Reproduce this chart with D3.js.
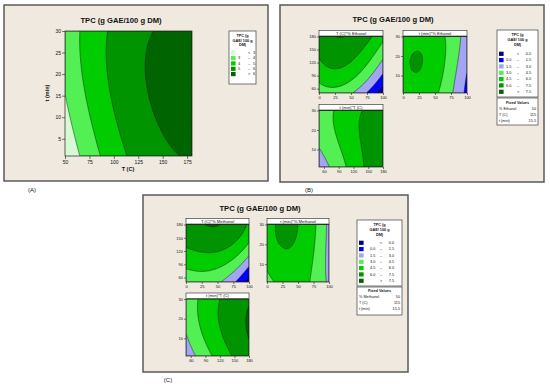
<!DOCTYPE html>
<html><head><meta charset="utf-8">
<script src="https://cdn.jsdelivr.net/npm/d3@7"></script>
<style>
body{margin:0;background:#fff}
svg{display:block}
text{font-family:"Liberation Sans",Arial,sans-serif;fill:#111}
</style>
</head><body>
<svg id="c" width="550" height="386"></svg>
<script>
// ---------------- data ----------------
const mainTitle = "TPC (g GAE/100 g DM)";
const legendTitle = ["TPC (g", "GAE/ 100 g", "DM)"];

const levelsA = [3, 4, 5, 6];
const colorsA = ["#d6fad2", "#52f052", "#00cc00", "#009400", "#006400"];
const legendRowsA = [["", "<", "3"], ["3", "–", "4"], ["4", "–", "5"], ["5", "–", "6"], ["", ">", "6"]];

const levelsBC = [0, 1.5, 3, 4.5, 6, 7.5];
const colorsBC = ["#000080", "#0000ff", "#a4a4f4", "#52f052", "#00cc00", "#009400", "#006400"];
const legendRowsBC = [["", "<", "0.0"], ["0.0", "–", "1.5"], ["1.5", "–", "3.0"], ["3.0", "–", "4.5"],
                      ["4.5", "–", "6.0"], ["6.0", "–", "7.5"], ["", ">", "7.5"]];

const fixedB = [["% Ethanol", "50"], ["T (C)", "115"], ["t (min)", "15.5"]];
const fixedC = [["% Methanol", "50"], ["T (C)", "115"], ["t (min)", "15.5"]];

const headersB = ["T (C)*% Ethanol", "t (min)*% Ethanol", "t (min)*T (C)"];
const headersC = ["T (C)*% Methanol", "t (min)*% Methanol", "t (min)*T (C)"];

const ticksT_A = [50, 75, 100, 125, 150, 175];
const ticks_t_A = [5, 10, 15, 20, 25, 30];
const ticksPct = [0, 25, 50, 75, 100];
const ticksT = [60, 90, 120, 150, 180];
const ticks_t = [10, 20, 30];

// points: [x, y, TPC] (contour crossings and band mid-values)
const ptsA = [
  [50,17,3],[55,10,3],[60,5,3],[65,1,3],
  [66.4,30,4],[68,22,4],[70.5,15,4],[82,6,4],[86,1,4],
  [93,30,5],[92.5,22,5],[96,14,5],[104,6.3,5],[114.5,1,5],
  [140,30,6],[133,21.7,6],[143.8,10,6],[157.5,4,6],[164.5,1,6],
  [175,20,6.4],[52,25,3.5]
];
const ptsB1 = [
  [24.5,180,7.5],[33,175,7.5],[42.7,180,7.5],
  [0,127,6],[15,113,6],[30,111,6],[50,118,6],[65,140,6],[78,180,6],
  [0,72,4.5],[25,64,4.5],[50,72,4.5],[75,105,4.5],[100,160,4.5],
  [52,50,3],[75,90,3],[100,138,3],
  [73,50,1.5],[100,95,1.5],
  [89.6,50,0],[100,64,0],
  [25,150,6.9],[10,90,5.3],[95,175,5.2]
];
const ptsB2 = [
  [13.75,17.3,6],[33.25,17.3,6],[23.5,23.4,6],[23.5,11.2,6],
  [16.6,21.6,6],[30.4,21.6,6],[16.6,13,6],[30.4,13,6],
  [23.5,17.3,6.3],[0,17,5.5],[0,2,5.1],[0,29,5.1],[45,28,5.3],[40,3,5.2],[23,1,5.3],[23,30,5.4],
  [68.75,30,4.5],[62,15,4.5],[57.3,1,4.5],
  [89.6,30,3],[84,15,3],[78,1,3],
  [100,10.5,1.5],[94.8,1,1.5]
];
const ptsB3 = [
  [50,11.25,3],[60,6,3],[72,1,3],
  [80,30,4.5],[80,22,4.5],[87,15,4.5],[105,1,4.5],
  [138.7,30,6],[130,18.4,6],[141,1,6],
  [175,15,6.7],[110,15,5.2]
];
const ptsC1 = [
  [35.6,180,7.5],[47,172,7.5],[59,180,7.5],
  [0,126,6],[33,116.5,6],[60,125,6],[85,150,6],[96,180,6],
  [0,81,4.5],[28,75.5,4.5],[60,85,4.5],[80,110,4.5],[100,141,4.5],
  [59,50,3],[80,78,3],[100,102.6,3],
  [75,50,1.5],[100,91,1.5],
  [94.8,50,0],[100,64,0],
  [30,150,6.9],[10,100,5.3]
];
const ptsC2 = [
  [13.3,30,6],[17,25,6],[22,19,6],[32,14.6,6],[42,18,6],[46,24,6],[47.9,30,6],
  [30,26,6.4],[0,20,5.3],[50,8,5.3],[55,25,5.6],[35,4,5.2],
  [79.8,30,4.5],[75,15,4.5],[71.8,1,4.5],[0,7,4.5],[7,4,4.5],[15.7,1,4.5],[0,1,4.15],
  [96,30,3],[93,15,3],[95,1,3],[100,15,2.6]
];
const ptsC3 = [
  [50,12,3],[60,6,3],[70,1,3],
  [74.8,30,4.5],[80,18,4.5],[90,9,4.5],[103.8,1,4.5],
  [119,30,6],[114,23,6],[125,10,6],[145.6,1,6],
  [180,27.4,7.5],[169,20,7.5],[180,11.3,7.5],
  [95,15,5.2],[150,20,6.8],[170,2,6.9],[160,30,6.9]
];

// ---------------- helpers ----------------
// least-squares cubic surface through the points read above
function fitSurface(pts, xd, yd) {
  const basis = (x, y) => { const u = (x - xd[0]) / (xd[1] - xd[0]) * 2 - 1, v = (y - yd[0]) / (yd[1] - yd[0]) * 2 - 1;
    return [1, u, v, u * u, v * v, u * v, u * u * u, u * u * v, u * v * v, v * v * v]; };
  const deg = [0, 1, 1, 2, 2, 2, 3, 3, 3, 3];
  const n = 10, A = Array.from({length: n}, () => new Array(n + 1).fill(0));
  pts.forEach(([x, y, z]) => { const b = basis(x, y);
    for (let i = 0; i < n; i++) { for (let j = 0; j < n; j++) A[i][j] += b[i] * b[j]; A[i][n] += b[i] * z; } });
  for (let i = 0; i < n; i++) A[i][i] += deg[i] === 3 ? 0.02 : 1e-6;
  for (let i = 0; i < n; i++) {
    let p = i; for (let r = i + 1; r < n; r++) if (Math.abs(A[r][i]) > Math.abs(A[p][i])) p = r;
    [A[i], A[p]] = [A[p], A[i]];
    for (let r = 0; r < n; r++) if (r !== i) { const f = A[r][i] / A[i][i]; for (let c = i; c <= n; c++) A[r][c] -= f * A[i][c]; }
  }
  const c = A.map((row, i) => row[n] / row[i]);
  return (x, y) => { const b = basis(x, y); return b.reduce((s, bi, i) => s + bi * c[i], 0); };
}

const svg = d3.select("#c");
const BG = "#efe9df";
let clipId = 0;

function frame(x, y, w, h) {
  svg.append("rect").attr("x", x).attr("y", y).attr("width", w).attr("height", h)
    .attr("fill", BG).attr("stroke", "#5a5a5a").attr("stroke-width", 1.5);
}
function label(x, y, t, opt = {}) {
  return svg.append("text").attr("x", x).attr("y", y).text(t)
    .attr("font-size", opt.size || 5).attr("font-weight", opt.bold ? "bold" : null)
    .attr("text-anchor", opt.anchor || "middle");
}

function contourPlot(cfg) {
  const [px, py, pw, ph] = cfg.rect;
  const xs = d3.scaleLinear().domain(cfg.xd).range([px, px + pw]);
  const ys = d3.scaleLinear().domain(cfg.yd).range([py + ph, py]);
  const f = fitSurface(cfg.pts, cfg.xd, cfg.yd);
  const nx = 120, ny = 120, vals = new Array(nx * ny);
  for (let j = 0; j < ny; j++) for (let i = 0; i < nx; i++) {
    const X = xs.invert(px + (i + 0.5) / nx * pw), Y = ys.invert(py + (j + 0.5) / ny * ph);
    vals[i + j * nx] = f(X, Y);
  }
  const id = "clip" + (clipId++);
  svg.append("clipPath").attr("id", id).append("rect").attr("x", px).attr("y", py).attr("width", pw).attr("height", ph);
  const g = svg.append("g").attr("clip-path", `url(#${id})`);
  g.append("rect").attr("x", px).attr("y", py).attr("width", pw).attr("height", ph).attr("fill", cfg.colors[0]);
  const path = d3.geoPath(d3.geoTransform({ point(x, y) { this.stream.point(px + x / nx * pw, py + y / ny * ph); } }));
  const cs = d3.contours().size([nx, ny]).thresholds(cfg.levels)(vals);
  cs.forEach((c, k) => {
    g.append("path").attr("d", path(c)).attr("fill", cfg.colors[k + 1])
      .attr("stroke", "#1b1b1b").attr("stroke-width", 0.5);
  });
  svg.append("rect").attr("x", px).attr("y", py).attr("width", pw).attr("height", ph)
    .attr("fill", "none").attr("stroke", "#222").attr("stroke-width", 0.7);
  const fs = cfg.tickFont || 4, tl = cfg.tickLen || 2;
  const ax = svg.append("g").attr("transform", `translate(0,${py + ph})`)
    .call(d3.axisBottom(xs).tickValues(cfg.xt).tickSize(tl).tickPadding(1).tickFormat(d3.format("d")));
  const ay = svg.append("g").attr("transform", `translate(${px},0)`)
    .call(d3.axisLeft(ys).tickValues(cfg.yt).tickSize(tl).tickPadding(1).tickFormat(d3.format("d")));
  [ax, ay].forEach(a => { a.select(".domain").remove();
    a.selectAll("text").attr("font-size", fs).attr("font-family", "Liberation Sans, Arial").attr("fill", "#222");
    a.selectAll("line").attr("stroke", "#222").attr("stroke-width", 0.6); });
  if (cfg.header) {
    svg.append("rect").attr("x", px).attr("y", py - 6).attr("width", pw).attr("height", 5.5)
      .attr("fill", "#fff").attr("stroke", "#222").attr("stroke-width", 0.6);
    label(px + pw / 2, py - 1.8, cfg.header, {size: 4.2});
  }
  return {xs, ys};
}

function legend(x, y, w, h, rows, colors, cols, rowY, titleY) {
  svg.append("rect").attr("x", x).attr("y", y).attr("width", w).attr("height", h)
    .attr("fill", "#fff").attr("stroke", "#555").attr("stroke-width", 0.8);
  legendTitle.forEach((t, i) => label(x + w / 2, titleY[i], t, {size: 3.8, bold: true}));
  rows.forEach((r, i) => {
    const yy = rowY[i];
    svg.append("rect").attr("x", x + 2).attr("y", yy - 3.3).attr("width", 4.6).attr("height", 4.2).attr("fill", colors[i]);
    if (r[0]) label(cols[0], yy, r[0], {size: 3.8, anchor: "start"});
    label(cols[1], yy, r[1], {size: 3.8});
    label(cols[2], yy, r[2], {size: 3.8, anchor: "end"});
  });
}
function fixedBox(x, y, w, h, rows, rowY) {
  svg.append("rect").attr("x", x).attr("y", y).attr("width", w).attr("height", h)
    .attr("fill", "#fff").attr("stroke", "#555").attr("stroke-width", 0.8);
  label(x + w / 2, rowY[0], "Fixed Values", {size: 3.8, bold: true});
  rows.forEach((r, i) => {
    label(x + 2, rowY[i + 1], r[0], {size: 3.8, anchor: "start"});
    label(x + w - 2, rowY[i + 1], r[1], {size: 3.8, anchor: "end"});
  });
}

// ---------------- panel A ----------------
frame(4, 5, 264, 176);
label(121, 23, mainTitle, {size: 7.6, bold: true});
contourPlot({rect: [65, 31, 127, 125], xd: [50, 180], yd: [1, 30], xt: ticksT_A, yt: ticks_t_A,
  pts: ptsA, levels: levelsA, colors: colorsA, tickFont: 5, tickLen: 3});
label(128, 171, "T (C)", {size: 5.5, bold: true});
svg.append("text").attr("transform", "translate(49,93) rotate(-90)").attr("text-anchor", "middle")
  .attr("font-size", 5.5).attr("font-weight", "bold").text("t (min)");
legend(229, 31, 27, 53, legendRowsA, colorsA, [238, 249, 255], [54, 59.3, 64.6, 70, 75.3], [37, 41.5, 46]);
label(32, 192, "(A)", {size: 6});

// ---------------- panel B ----------------
frame(280, 5, 264, 177);
label(393, 22, mainTitle, {size: 7.6, bold: true});
contourPlot({rect: [319, 36.5, 64, 56.5], xd: [0, 100], yd: [50, 180], xt: ticksPct, yt: ticksT,
  pts: ptsB1, levels: levelsBC, colors: colorsBC, header: headersB[0]});
contourPlot({rect: [403, 36.5, 64, 56.5], xd: [0, 100], yd: [1, 30], xt: ticksPct, yt: ticks_t,
  pts: ptsB2, levels: levelsBC, colors: colorsBC, header: headersB[1]});
contourPlot({rect: [319, 110.5, 64, 56.5], xd: [50, 180], yd: [1, 30], xt: ticksT, yt: ticks_t,
  pts: ptsB3, levels: levelsBC, colors: colorsBC, header: headersB[2]});
legend(497, 30, 41, 67, legendRowsBC, colorsBC, [506, 518, 531], [55, 61.3, 67.6, 74, 80.3, 86.6, 93], [35.5, 40.5, 45.5]);
fixedBox(497, 98, 41, 27, fixedB, [103.5, 109.5, 115.5, 121.5]);
label(309, 192, "(B)", {size: 6});

// ---------------- panel C ----------------
frame(143, 195, 265, 177);
label(260, 211, mainTitle, {size: 7.6, bold: true});
contourPlot({rect: [186, 224.5, 63, 57.5], xd: [0, 100], yd: [50, 180], xt: ticksPct, yt: ticksT,
  pts: ptsC1, levels: levelsBC, colors: colorsBC, header: headersC[0]});
contourPlot({rect: [267, 224.5, 62, 57.5], xd: [0, 100], yd: [1, 30], xt: ticksPct, yt: ticks_t,
  pts: ptsC2, levels: levelsBC, colors: colorsBC, header: headersC[1]});
contourPlot({rect: [186, 299, 63, 57], xd: [50, 180], yd: [1, 30], xt: ticksT, yt: ticks_t,
  pts: ptsC3, levels: levelsBC, colors: colorsBC, header: headersC[2]});
legend(357, 220, 45, 66, legendRowsBC, colorsBC, [370, 381, 394], [244, 250.3, 256.6, 263, 269.3, 275.6, 282], [225.5, 230.5, 235.5]);
fixedBox(357, 287, 45, 28, fixedC, [292, 298, 304, 310]);
label(168, 382, "(C)", {size: 6});
</script>
</body></html>
